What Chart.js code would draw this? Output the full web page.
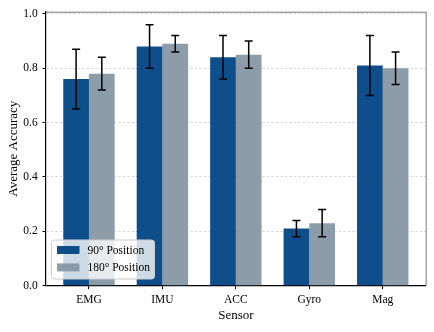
<!DOCTYPE html>
<html>
<head>
<meta charset="utf-8">
<script src="https://cdn.jsdelivr.net/npm/chart.js@4"></script>
<style>
  html, body { margin: 0; padding: 0; background: #fff; }
  canvas { display: block; }
</style>
</head>
<body>
<canvas id="sensor-chart" width="434" height="332"></canvas>
<script>
// data
const categories = ['EMG', 'IMU', 'ACC', 'Gyro', 'Mag'];
const pos90 = [0.76, 0.88, 0.84, 0.21, 0.81];
const pos90Err = [0.11, 0.08, 0.08, 0.03, 0.11];
const pos180 = [0.78, 0.89, 0.85, 0.23, 0.80];
const pos180Err = [0.06, 0.03, 0.05, 0.05, 0.06];
const yTicks = [0, 0.2, 0.4, 0.6, 0.8, 1.0];
const seriesNames = ['90° Position', '180° Position'];

const SERIF = "'Liberation Serif', 'DejaVu Serif', serif";
const blue = 'rgba(1, 70, 133, 0.95)';
const grey = 'rgba(135, 151, 164, 0.95)';

// error bars on top of each bar
const errorBars = {
    id: 'errorBars',
    afterDatasetsDraw(chart) {
        const ctx = chart.ctx;
        const y = chart.scales.y;
        const errs = [pos90Err, pos180Err];
        ctx.save();
        ctx.strokeStyle = '#000';
        ctx.lineWidth = 1.5;
        chart.data.datasets.forEach(function(ds, di) {
            const meta = chart.getDatasetMeta(di);
            meta.data.forEach(function(bar, i) {
                const v = ds.data[i].y;
                const top = y.getPixelForValue(v + errs[di][i]);
                const bot = y.getPixelForValue(v - errs[di][i]);
                ctx.beginPath();
                ctx.moveTo(bar.x, top); ctx.lineTo(bar.x, bot);
                ctx.moveTo(bar.x - 4, top); ctx.lineTo(bar.x + 4, top);
                ctx.moveTo(bar.x - 4, bot); ctx.lineTo(bar.x + 4, bot);
                ctx.stroke();
            });
        });
        ctx.restore();
    }
};

// grey top / right spines and a matplotlib-like legend box
const frameAndLegend = {
    id: 'frameAndLegend',
    afterDraw(chart) {
        const ctx = chart.ctx;
        const a = chart.chartArea;
        ctx.save();
        ctx.strokeStyle = '#7a7a7a';
        ctx.lineWidth = 1;
        ctx.beginPath();
        ctx.moveTo(a.left, a.top + 0.5); ctx.lineTo(a.right + 0.5, a.top + 0.5);
        ctx.lineTo(a.right + 0.5, a.bottom);
        ctx.stroke();

        // legend
        const lx = 51.5, ly = 240, lw = 103, lh = 39;
        ctx.beginPath();
        ctx.roundRect(lx, ly, lw, lh, 3);
        ctx.fillStyle = 'rgba(255,255,255,0.8)';
        ctx.fill();
        ctx.strokeStyle = '#cccccc';
        ctx.lineWidth = 1;
        ctx.stroke();

        ctx.font = '11.5px ' + SERIF;
        ctx.textBaseline = 'middle';
        ctx.textAlign = 'left';
        [blue, grey].forEach(function(col, i) {
            const cy = 250 + i * 17.4;
            ctx.fillStyle = col;
            ctx.fillRect(57, cy - 4, 22.5, 8);
            ctx.fillStyle = '#000';
            ctx.fillText(seriesNames[i], 87.5, cy + 0.5);
        });
        ctx.restore();
    }
};

const data = {
    datasets: [{
        label: seriesNames[0],
        data: categories.map((c, i) => ({ x: i, y: pos90[i] })),
        backgroundColor: blue
    }, {
        label: seriesNames[1],
        data: categories.map((c, i) => ({ x: i, y: pos180[i] })),
        backgroundColor: grey
    }]
};

const options = {
    responsive: false,
    animation: false,
    devicePixelRatio: 1,
    categoryPercentage: 0.7,
    barPercentage: 1.0,
    layout: { padding: { top: 11, right: 8.3, left: 0, bottom: 0 } },
    plugins: {
        legend: { display: false },
        tooltip: { enabled: false }
    },
    scales: {
        x: {
            type: 'linear',
            min: -0.585,
            max: 4.585,
            offset: false,
            afterBuildTicks: s => { s.ticks = categories.map((c, i) => ({ value: i })); },
            afterFit: s => { s.height = 46.3; },
            grid: {
                display: true,
                offset: false,
                drawOnChartArea: false,
                drawTicks: true,
                tickLength: 3.5,
                tickColor: '#000',
                tickWidth: 1
            },
            border: { display: true, color: '#000', width: 1.2 },
            ticks: {
                callback: v => categories[v],
                color: '#000',
                font: { family: SERIF, size: 11.5 },
                padding: 4,
                maxRotation: 0,
                autoSkip: false
            },
            title: {
                display: true,
                text: 'Sensor',
                color: '#000',
                font: { family: SERIF, size: 13 },
                padding: { top: 0, bottom: 8.5 }
            }
        },
        y: {
            min: 0,
            max: 1.008,
            afterBuildTicks: s => { s.ticks = yTicks.map(v => ({ value: v })); },
            afterFit: s => { s.width = 46; },
            grid: {
                color: '#cfcfcf',
                lineWidth: 0.8,
                drawTicks: true,
                tickLength: 3.5,
                tickColor: '#000',
                tickWidth: 1
            },
            border: { display: true, color: '#000', width: 1.2, dash: [2.5, 2] },
            ticks: {
                callback: v => v.toFixed(1),
                color: '#000',
                font: { family: SERIF, size: 11.5 },
                padding: 4.8
            },
            title: {
                display: true,
                text: 'Average Accuracy',
                color: '#000',
                font: { family: SERIF, size: 13 },
                padding: { top: 5.5, bottom: 0 }
            }
        }
    }
};

new Chart(document.querySelector('#sensor-chart'), {
    type: 'bar',
    data: data,
    options: options,
    plugins: [errorBars, frameAndLegend]
});
</script>
</body>
</html>
